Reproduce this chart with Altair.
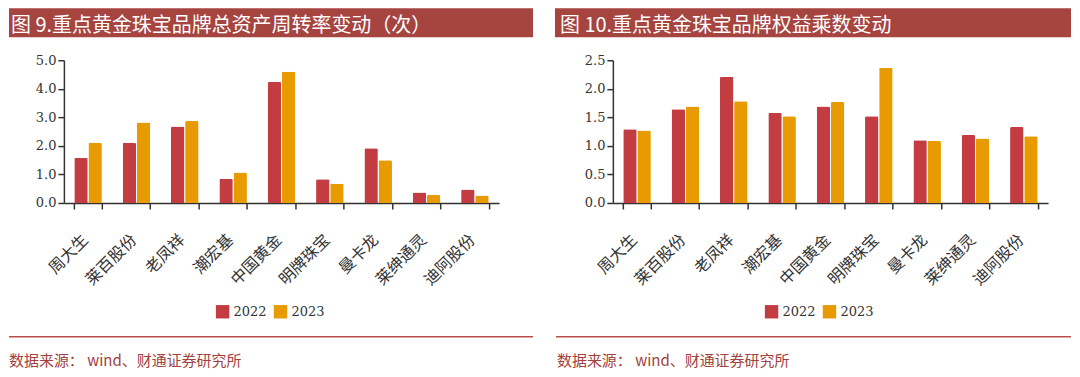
import altair as alt
import pandas as pd

categories = ["周大生", "莱百股份", "老凤祥", "潮宏基", "中国黄金", "明牌珠宝", "曼卡龙", "莱绅通灵", "迪阿股份"]
years = ["2022", "2023"]
turnover_2022 = [1.58, 2.11, 2.68, 0.85, 4.24, 0.83, 1.92, 0.37, 0.47]
turnover_2023 = [2.10, 2.82, 2.87, 1.07, 4.60, 0.67, 1.50, 0.28, 0.26]
multiplier_2022 = [1.29, 1.64, 2.21, 1.58, 1.69, 1.52, 1.10, 1.19, 1.33]
multiplier_2023 = [1.27, 1.69, 1.78, 1.52, 1.77, 2.37, 1.09, 1.13, 1.17]
y_ticks_left = [0, 1, 2, 3, 4, 5]
y_ticks_right = [0, 0.5, 1, 1.5, 2, 2.5]
title_left = "图 9.重点黄金珠宝品牌总资产周转率变动（次）"
title_right = "图 10.重点黄金珠宝品牌权益乘数变动"
source_text = "数据来源： wind、财通证券研究所"

RED = "#c33c42"
ORANGE = "#e89b00"
BAR_BG = "#a64440"
SEP = "#b5504d"
SRC = "#a3413d"
CJK = "Noto Sans CJK SC"
SERIF = "DejaVu Serif"

W, H = 436, 143


def panel(v22, v23, ymax, yticks, title, bg_x, bg_x2, title_x, sep_x, sep_x2, src_x):
    df = pd.DataFrame({
        "brand": categories * 2,
        "year": [years[0]] * len(categories) + [years[1]] * len(categories),
        "value": v22 + v23,
    })
    bars = alt.Chart(df).mark_bar(cornerRadiusTopLeft=1.5, cornerRadiusTopRight=1.5).encode(
        x=alt.X("brand:N", sort=categories,
                scale=alt.Scale(paddingInner=0.43, paddingOuter=0.215),
                axis=alt.Axis(title=None, labelAngle=-45, labelAlign="right", labelBaseline="middle",
                              labelPadding=28, labelOffset=-3, tickBand="extent", labelFont=CJK,
                              labelFontSize=16, labelOverlap=False, labelBound=False, labelFlush=False)),
        xOffset=alt.XOffset("year:N", sort=years, scale=alt.Scale(paddingInner=0.05)),
        y=alt.Y("value:Q", scale=alt.Scale(domain=[0, ymax], nice=False),
                axis=alt.Axis(title=None, values=yticks, format=".1f", grid=False,
                              labelFont=SERIF, labelFontSize=13, labelPadding=2)),
        color=alt.Color("year:N", scale=alt.Scale(domain=years, range=[RED, ORANGE]),
                        legend=alt.Legend(title=None, orient="none", legendX=152, legendY=245,
                                          direction="horizontal", symbolType="square", symbolSize=180,
                                          symbolStrokeWidth=0, labelFont=SERIF, labelFontSize=13,
                                          labelColor="#333", padding=0, columnPadding=6, labelOffset=4)),
    )
    tdf = pd.DataFrame({"t": [title]})
    bg = alt.Chart(tdf).mark_rect(color=BAR_BG).encode(
        x=alt.value(bg_x), x2=alt.value(bg_x2), y=alt.value(-52), y2=alt.value(-23))
    txt = alt.Chart(tdf).mark_text(align="left", baseline="alphabetic", font=CJK, fontSize=20,
                                   color="white").encode(
        text="t:N", x=alt.value(title_x), y=alt.value(-28))
    sep = alt.Chart(tdf).mark_rule(color=SEP, strokeWidth=1.5).encode(
        x=alt.value(sep_x), x2=alt.value(sep_x2), y=alt.value(277))
    sdf = pd.DataFrame({"s": [source_text]})
    src = alt.Chart(sdf).mark_text(align="left", baseline="middle", font=CJK, fontSize=15, color=SRC).encode(
        text="s:N", x=alt.value(src_x), y=alt.value(301))
    return alt.layer(bars, bg, txt, sep, src).properties(width=W, height=H)


left = panel(turnover_2022, turnover_2023, 5, y_ticks_left, title_left, -55, 470, -53, -55, 470, -55)
right = panel(multiplier_2022, multiplier_2023, 2.5, y_ticks_right, title_right, -58, 459, -53, -57, 459, -56)

chart = alt.hconcat(left, right, spacing=114, bounds="flush").resolve_scale(
    color="independent"
).properties(padding=0).configure_view(stroke=None).configure_axis(
    domainColor="#333", tickColor="#333", domainWidth=1.5, tickWidth=1.5, tickSize=6, labelColor="#333"
)

chart.save("out.html", embed_options={"renderer": "svg", "actions": False})
